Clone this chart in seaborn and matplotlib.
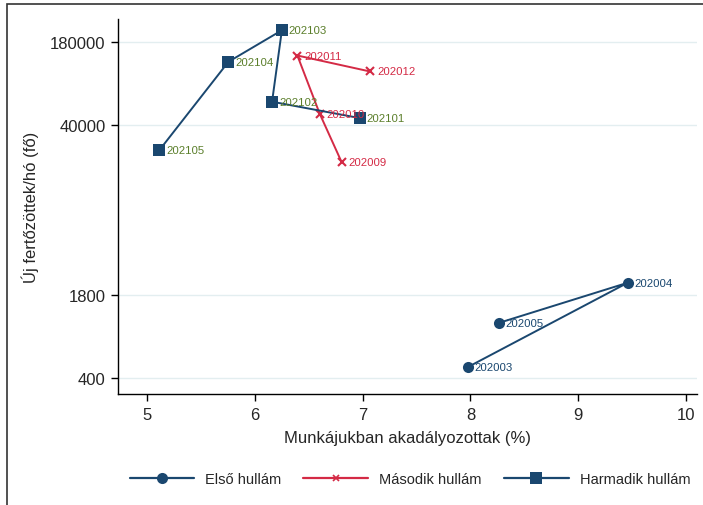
import pandas as pd
import matplotlib
matplotlib.use("Agg")
import matplotlib.pyplot as plt
import matplotlib.lines as mlines
import seaborn as sns

# Első hullám
months_1 = ["202003", "202004", "202005"]
x_1 = [7.975, 9.461, 8.264]
y_1 = [489, 2271, 1093]

# Második hullám
months_2 = ["202009", "202010", "202011", "202012"]
x_2 = [6.804, 6.601, 6.394, 7.068]
y_2 = [20400, 49120, 141400, 105780]

# Harmadik hullám
months_3 = ["202101", "202102", "202103", "202104", "202105"]
x_3 = [6.972, 6.159, 6.250, 5.754, 5.112]
y_3 = [45340, 61030, 223800, 126150, 25230]

y_ticks = [400, 1800, 40000, 180000]
x_ticks = [5, 6, 7, 8, 9, 10]

navy = "#1a476f"
red = "#d42a45"
green = "#5b7f2b"

sns.set_style("white")
plt.rcParams["font.family"] = ["Liberation Sans", "DejaVu Sans"]

fig = plt.figure(figsize=(7.03, 5.06), dpi=100)
ax = fig.add_axes([0.168, 0.219, 0.823, 0.741])

waves = [
    ("Első hullám", months_1, x_1, y_1, navy, "o", 8, navy),
    ("Második hullám", months_2, x_2, y_2, red, "x", 6, red),
    ("Harmadik hullám", months_3, x_3, y_3, navy, "s", 8, green),
]

handles = []
for name, months, xs, ys, col, mk, ms, lab_col in waves:
    df = pd.DataFrame({"x": xs, "y": ys, "m": months})
    sns.lineplot(data=df, x="x", y="y", sort=False, color=col, marker=mk,
                 markersize=ms, markeredgecolor=col, markeredgewidth=1.5 if mk == "x" else 0,
                 linewidth=1.4, ax=ax)
    for _, r in df.iterrows():
        ax.annotate(r["m"], (r["x"], r["y"]), xytext=(5, 0), textcoords="offset points",
                    va="center", ha="left", fontsize=8.2, color=lab_col)
    handles.append(mlines.Line2D([], [], color=col, marker=mk, markersize=ms if mk != "x" else 4,
                                 markeredgecolor=col, markeredgewidth=1.2 if mk == "x" else 0,
                                 linewidth=1.6, label=name))

ax.set_yscale("log")
ax.set_xlim(4.73, 10.1)
ax.set_ylim(299, 273500)
ax.set_yticks(y_ticks)
ax.set_yticklabels([str(t) for t in y_ticks])
ax.minorticks_off()
ax.set_xticks(x_ticks)
ax.set_xticklabels([str(t) for t in x_ticks])
ax.tick_params(axis="both", which="major", labelsize=12, length=5, width=1, color="black",
               direction="out", pad=4, bottom=True, left=True)
ax.yaxis.grid(True, color="#e3eef0", linewidth=1)
ax.xaxis.grid(False)
ax.set_axisbelow(True)
for s in ["top", "right"]:
    ax.spines[s].set_visible(False)
for s in ["left", "bottom"]:
    ax.spines[s].set_color("black")
    ax.spines[s].set_linewidth(1)

ax.set_xlabel("Munkájukban akadályozottak (%)", fontsize=12, labelpad=6)
ax.set_ylabel("Új fertőzöttek/hó (fő)", fontsize=12, labelpad=8)

fig.legend(handles=handles, loc="center", bbox_to_anchor=(0.583, 1 - 480 / 506), ncol=3,
           frameon=False, fontsize=10.5, handlelength=4.45, columnspacing=1.5,
           handletextpad=0.75)

# outer frame (top and left edges visible)
fig.add_artist(plt.Rectangle((7 / 703, -0.1), 1.2, 1 - 5 / 506 + 0.1, transform=fig.transFigure,
                             fill=False, edgecolor="#333333", linewidth=1.2))

fig.savefig("out.png", dpi=100)
